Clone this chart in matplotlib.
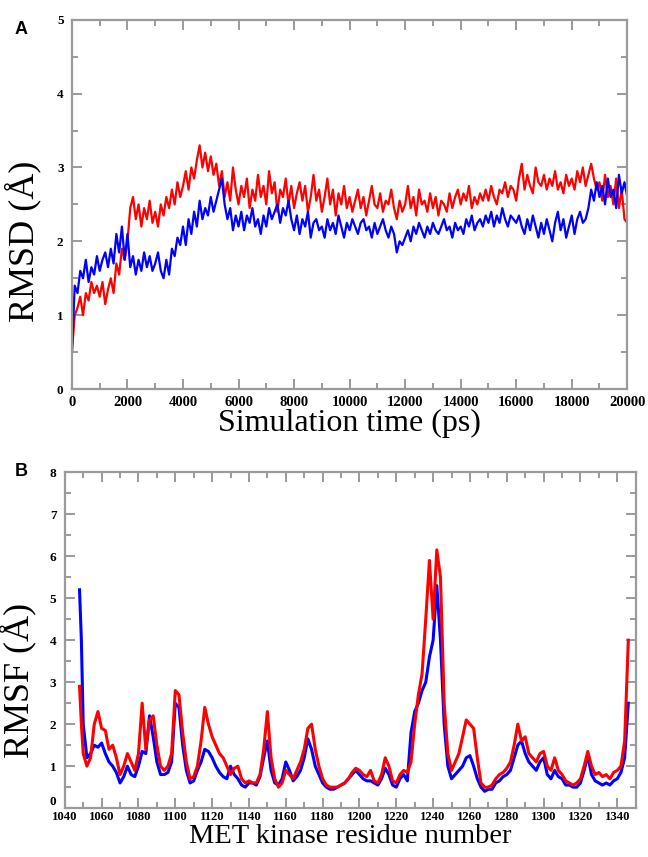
import numpy as np
import matplotlib
matplotlib.use("Agg")
import matplotlib.pyplot as plt
from matplotlib.ticker import MultipleLocator

# ---- panel A: RMSD vs simulation time (sampled every 100 ps)
time_ps = list(range(0, 20001, 100))

rmsd_red = [
    0.5, 1.0, 1.1, 1.25, 1.0, 1.3, 1.2, 1.45, 1.3, 1.4,
    1.25, 1.45, 1.15, 1.35, 1.5, 1.3, 1.7, 1.55, 1.9, 1.75,
    2.0, 2.45, 2.6, 2.3, 2.5, 2.2, 2.45, 2.3, 2.55, 2.25,
    2.4, 2.2, 2.5, 2.35, 2.6, 2.45, 2.7, 2.5, 2.8, 2.6,
    2.75, 2.95, 2.7, 3.0, 2.85, 3.1, 3.3, 3.0, 3.2, 2.95,
    3.15, 2.9, 3.05, 2.75, 2.95, 2.6, 2.8, 2.55, 3.0, 2.7,
    2.5, 2.75, 2.6, 2.85, 2.45, 2.7, 2.55, 2.9, 2.6, 2.75,
    2.5, 2.95, 2.65, 2.8, 2.4, 2.7, 2.6, 2.85, 2.5, 2.75,
    2.45, 2.65, 2.8, 2.55, 2.75, 2.4, 2.6, 2.9, 2.55, 2.7,
    2.4, 2.6, 2.85, 2.5, 2.7, 2.35, 2.65, 2.5, 2.75, 2.45,
    2.6, 2.4, 2.55, 2.7, 2.45, 2.6, 2.35, 2.55, 2.75, 2.5,
    2.45, 2.65, 2.4, 2.55, 2.5, 2.7, 2.45, 2.3, 2.55, 2.4,
    2.5, 2.75, 2.45, 2.6, 2.35, 2.7, 2.5, 2.55, 2.4, 2.65,
    2.45, 2.6, 2.35, 2.55, 2.5, 2.4, 2.65, 2.45, 2.6, 2.7,
    2.5, 2.65, 2.55, 2.75, 2.45, 2.6, 2.5, 2.65, 2.55, 2.7,
    2.55, 2.75, 2.6, 2.5, 2.7, 2.65, 2.8, 2.6, 2.75, 2.7,
    2.55, 2.85, 3.05, 2.7, 2.9, 2.75, 2.65, 3.0, 2.8, 2.75,
    2.9, 2.7, 2.85, 2.75, 2.95, 2.7, 2.8, 2.65, 2.9, 2.75,
    2.85, 2.7, 2.95, 2.8, 3.0, 2.75, 2.9, 3.05, 2.85, 2.7,
    2.8, 2.55, 2.9, 2.6, 2.75, 2.5, 2.85, 2.45, 2.7, 2.3,
    2.25,
]

rmsd_blue = [
    0.5, 1.4, 1.3, 1.6, 1.5, 1.75, 1.45, 1.65, 1.55, 1.8,
    1.6, 1.75, 1.85, 1.65, 1.9, 1.7, 2.1, 1.85, 2.2, 1.75,
    2.1, 1.65, 1.8, 1.55, 1.75, 1.6, 1.85, 1.65, 1.8, 1.6,
    1.7, 1.85, 1.6, 1.5, 1.75, 1.55, 1.9, 1.8, 2.05, 1.95,
    2.2, 1.95, 2.3, 2.1, 2.4, 2.2, 2.55, 2.3, 2.45, 2.35,
    2.6, 2.4, 2.55, 2.7, 2.85, 2.5, 2.3, 2.45, 2.15, 2.35,
    2.2, 2.4, 2.15, 2.35, 2.25, 2.45, 2.2, 2.3, 2.1, 2.35,
    2.2, 2.45, 2.3, 2.4, 2.5, 2.25, 2.45, 2.35, 2.55, 2.3,
    2.15, 2.35, 2.1, 2.3, 2.2, 2.4, 2.05, 2.25, 2.3, 2.15,
    2.2, 2.05, 2.3, 2.15, 2.25, 2.1, 2.35, 2.2, 2.05, 2.25,
    2.15, 2.3, 2.2, 2.1, 2.25, 2.3, 2.15, 2.2, 2.05, 2.25,
    2.1, 2.2, 2.3, 2.15, 2.05, 2.2, 2.1, 1.85, 2.0, 1.95,
    2.05, 2.15, 2.0, 2.2, 2.1, 2.25, 2.15, 2.05, 2.2, 2.1,
    2.25, 2.15, 2.1, 2.2, 2.3, 2.15, 2.2, 2.05, 2.25, 2.15,
    2.2, 2.1, 2.3, 2.2, 2.35, 2.15, 2.25, 2.3, 2.2, 2.35,
    2.25, 2.4, 2.2, 2.35, 2.25, 2.45, 2.3, 2.2, 2.35, 2.3,
    2.25, 2.35, 2.2, 2.1, 2.3, 2.15, 2.35, 2.2, 2.05, 2.25,
    2.1, 2.3, 2.15, 2.0, 2.25, 2.4, 2.15, 2.3, 2.05, 2.2,
    2.35, 2.1, 2.3, 2.4, 2.25, 2.3, 2.45, 2.7, 2.55, 2.8,
    2.6, 2.75, 2.5, 2.85, 2.6, 2.7, 2.45, 2.9, 2.65, 2.8,
    2.6,
]

# ---- panel B: RMSF per residue
residues = [1048, 1049] + list(range(1050, 1347, 2))

rmsf_red = [
    2.9, 2.0,
    1.3, 1.0, 1.2, 2.0, 2.3, 1.9, 1.85, 1.4, 1.5, 1.2,
    0.8, 1.0, 1.3, 1.1, 0.9, 1.3, 2.5, 1.4, 2.1, 2.2,
    1.5, 1.0, 0.9, 1.0, 1.3, 2.8, 2.7, 1.8, 1.1, 0.7,
    0.75, 1.0, 1.6, 2.4, 2.0, 1.7, 1.5, 1.3, 1.2, 1.0,
    0.8, 0.95, 1.0, 0.7, 0.6, 0.65, 0.6, 0.6, 0.8, 1.4,
    2.3, 1.2, 0.7, 0.5, 0.6, 0.9, 0.8, 0.7, 0.9, 1.1,
    1.4, 1.9, 2.0, 1.4, 1.0, 0.7, 0.55, 0.5, 0.5, 0.5,
    0.55, 0.6, 0.7, 0.85, 0.95, 0.9, 0.8, 0.75, 0.9, 0.65,
    0.6, 0.8, 1.2, 1.0, 0.65, 0.6, 0.8, 0.9, 0.85, 1.1,
    2.0, 2.7, 3.2, 4.5, 5.9, 4.5, 6.15, 5.5, 2.5, 1.3,
    0.9, 1.1, 1.3, 1.7, 2.1, 2.0, 1.9, 1.2, 0.6, 0.5,
    0.5, 0.55, 0.7, 0.8, 0.85, 0.95, 1.1, 1.5, 2.0, 1.6,
    1.7, 1.3, 1.2, 1.1, 1.3, 1.35, 1.0, 0.9, 1.2, 0.9,
    0.8, 0.65, 0.6, 0.55, 0.6, 0.7, 1.0, 1.35, 1.0, 0.8,
    0.85, 0.75, 0.8, 0.7, 0.85, 0.9, 1.0, 1.6, 4.0,
]

rmsf_blue = [
    5.2, 4.0,
    2.0, 1.2, 1.3, 1.5, 1.45, 1.55, 1.3, 1.1, 1.0, 0.85,
    0.6, 0.75, 1.0, 0.8, 0.75, 1.0, 1.35, 1.3, 2.2, 1.7,
    1.1, 0.8, 0.8, 0.85, 1.1, 2.5, 2.4, 1.5, 0.9, 0.6,
    0.65, 0.9, 1.1, 1.4, 1.35, 1.2, 1.0, 0.85, 0.75, 0.7,
    1.0, 0.8, 0.7, 0.55, 0.5, 0.6, 0.6, 0.55, 0.75, 1.2,
    1.6, 0.9, 0.6, 0.55, 0.7, 1.1, 0.9, 0.65, 0.75, 0.9,
    1.2, 1.65, 1.4, 1.0, 0.8, 0.6, 0.5, 0.45, 0.45, 0.5,
    0.55, 0.6, 0.7, 0.8, 0.9, 0.8, 0.7, 0.65, 0.65, 0.6,
    0.55, 0.7, 0.95, 0.8, 0.55, 0.5, 0.7, 0.8, 0.65, 1.8,
    2.3, 2.5, 2.8, 3.0, 3.6, 4.0, 5.3, 4.0, 2.0, 1.0,
    0.7, 0.8, 0.9, 1.0, 1.2, 1.25, 1.0, 0.7, 0.5, 0.4,
    0.45, 0.45, 0.6, 0.65, 0.75, 0.8, 0.9, 1.2, 1.5, 1.6,
    1.3, 1.1, 1.0, 0.9, 1.1, 1.2, 0.8, 0.7, 0.9, 0.75,
    0.7, 0.55, 0.55, 0.5, 0.5, 0.6, 0.9, 1.25, 0.8, 0.65,
    0.6, 0.55, 0.6, 0.55, 0.65, 0.7, 0.85, 1.2, 2.5,
]

assert len(rmsd_red) == len(time_ps) == len(rmsd_blue)
assert len(rmsf_red) == len(residues) == len(rmsf_blue)

RED = "#ff0000"
BLUE = "#0000ff"
SPINE = "#9a9a9a"
serif = ["Liberation Serif", "DejaVu Serif"]


def style_axes(ax, xmajor, xminor, ymajor, yminor, xsize):
    for sp in ax.spines.values():
        sp.set_color(SPINE)
        sp.set_linewidth(1.6)
    ax.xaxis.set_major_locator(MultipleLocator(xmajor))
    ax.xaxis.set_minor_locator(MultipleLocator(xminor))
    ax.yaxis.set_major_locator(MultipleLocator(ymajor))
    ax.yaxis.set_minor_locator(MultipleLocator(yminor))
    ax.tick_params(which="both", direction="in", top=True, right=True,
                   color=SPINE, width=1.4)
    ax.tick_params(which="major", length=7)
    ax.tick_params(which="minor", length=4)
    ax.tick_params(axis="x", which="major", pad=5)
    ax.tick_params(axis="y", which="major", pad=6)
    for lab in ax.get_xticklabels() + ax.get_yticklabels():
        lab.set_family(serif)
        lab.set_fontweight("bold")
    for lab in ax.get_xticklabels():
        lab.set_fontsize(xsize)
    for lab in ax.get_yticklabels():
        lab.set_fontsize(9.5)


fig = plt.figure(figsize=(6.48, 8.57), dpi=100)

# panel A
axA = fig.add_axes([0.111, 0.546, 0.857, 0.431])
axA.plot(time_ps, rmsd_red, color=RED, lw=1.6)
axA.plot(time_ps, rmsd_blue, color=BLUE, lw=1.6)
axA.set_xlim(0, 20000)
axA.set_ylim(0, 5)
style_axes(axA, 2000, 1000, 1, 0.5, 10.5)
axA.set_xlabel("Simulation time (ps)", family=serif, fontsize=23, labelpad=0)
axA.set_ylabel("RMSD (Å)", family=serif, fontsize=26)
axA.yaxis.set_label_coords(-0.055, 0.40)

# panel B
axB = fig.add_axes([0.100, 0.057, 0.881, 0.392])
axB.plot(residues, rmsf_blue, color=BLUE, lw=2.2)
axB.plot(residues, rmsf_red, color=RED, lw=2.2)
axB.set_xlim(1040, 1350)
axB.set_ylim(0, 8)
style_axes(axB, 20, 10, 1, 0.5, 9.2)
axB.tick_params(axis="x", which="major", pad=2)
axB.set_xlabel("MET kinase residue number", family=serif, fontsize=20.5, labelpad=1)
axB.set_ylabel("RMSF (Å)", family=serif, fontsize=26)
axB.yaxis.set_label_coords(-0.05, 0.38)

# panel letters
fig.text(0.022, 0.965, "A", family=["Liberation Sans", "DejaVu Sans"],
         fontweight="bold", fontsize=13, va="center")
fig.text(0.022, 0.450, "B", family=["Liberation Sans", "DejaVu Sans"],
         fontweight="bold", fontsize=13, va="center")

# the corner "0" of panel B sits just above the x tick labels, as in the original
fig.canvas.draw()
for loc, tick in zip(axB.yaxis.get_majorticklocs(), axB.yaxis.get_major_ticks()):
    if loc == 0:
        tick.label1.set_verticalalignment("bottom")

fig.savefig("out.png", dpi=100)
